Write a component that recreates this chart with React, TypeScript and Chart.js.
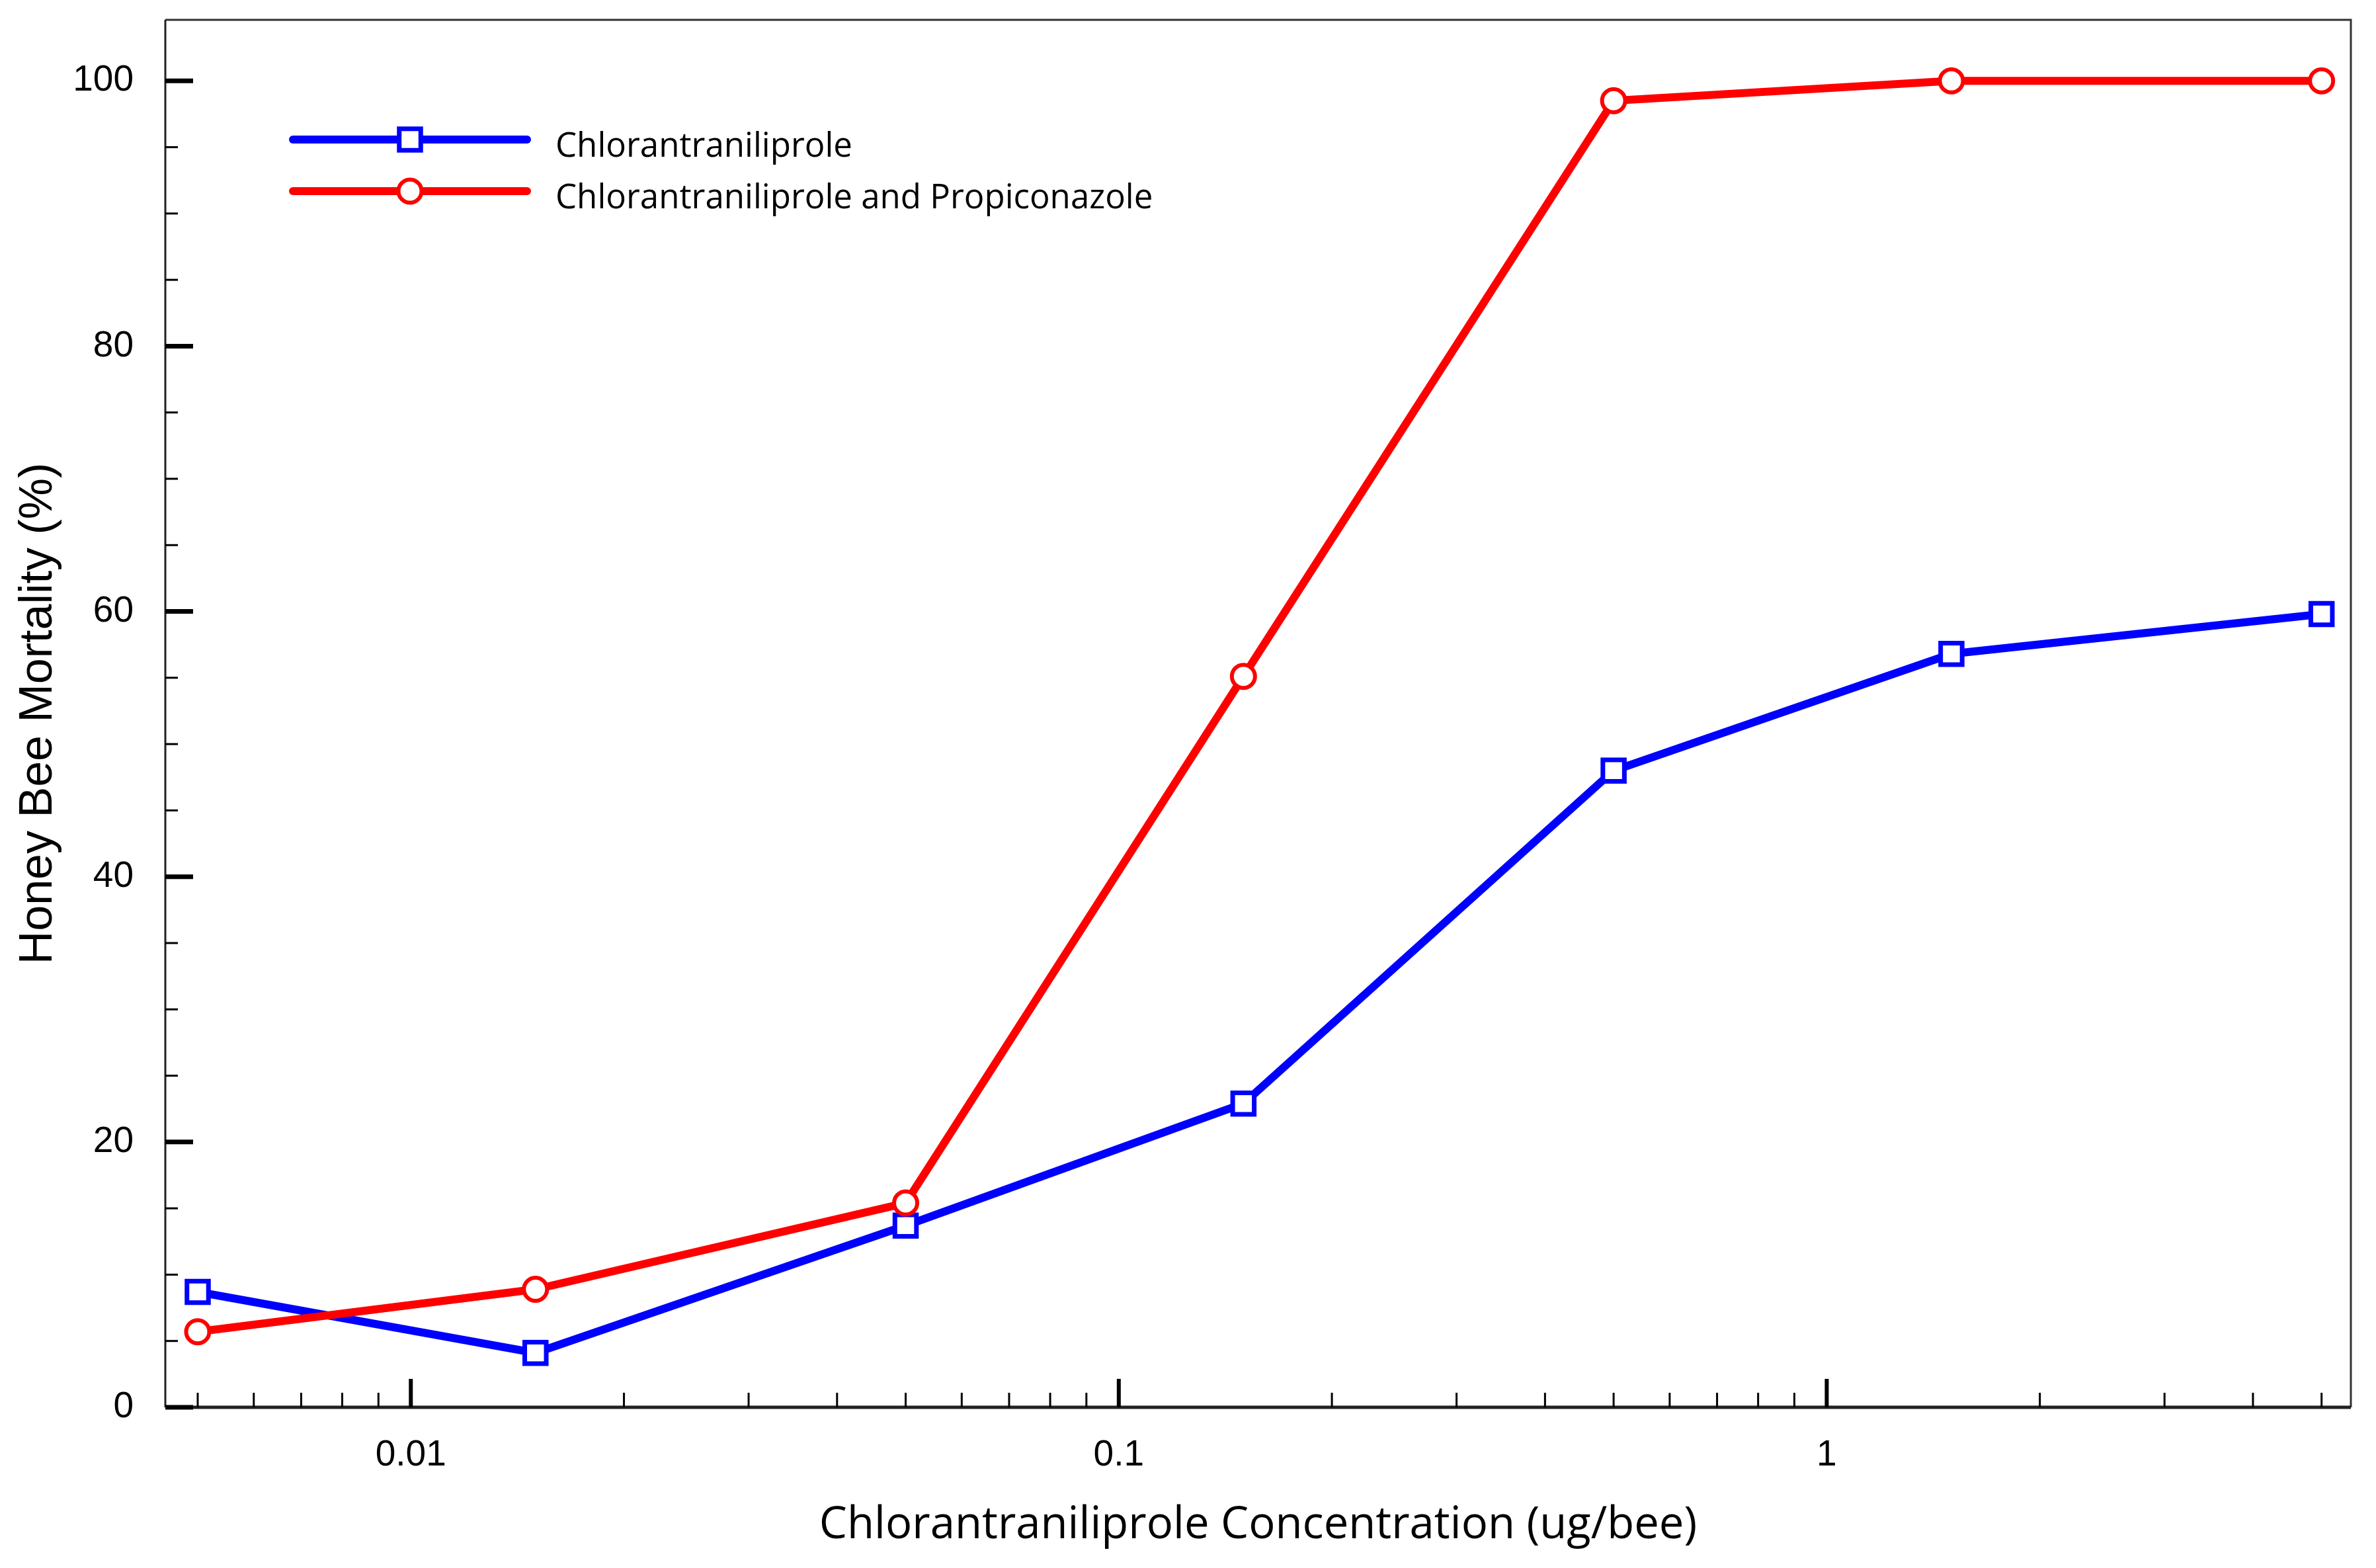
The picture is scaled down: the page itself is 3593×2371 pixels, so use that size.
import { useEffect, useRef } from 'react';
import { Chart, registerables } from 'chart.js';

Chart.register(...registerables);

// doses in ug/bee
const doses = [0.005, 0.015, 0.05, 0.15, 0.5, 1.5, 5];
// mortality (%)
const chlorantraniliprole = [8.7, 4.1, 13.7, 22.9, 48.0, 56.8, 59.8];
const withPropiconazole = [5.7, 8.9, 15.4, 55.1, 98.5, 100, 100];

const seriesLabels = ['Chlorantraniliprole', 'Chlorantraniliprole and Propiconazole'];
const xTickValues = [0.01, 0.1, 1];
const yTickValues = [0, 20, 40, 60, 80, 100];
const xTitle = 'Chlorantraniliprole Concentration (ug/bee)';
const yTitle = 'Honey Bee Mortality (%)';

const X_MIN = 0.0045;
const X_MAX = 5.5;
const Y_MIN = 0;
const Y_MAX = 104.6;

// frame + inward ticks, drawn under the data
const framePlugin = {
	id: 'frame',
	beforeDatasetsDraw(chart: any) {
		const { ctx, chartArea, scales } = chart;
		const { left, right, top, bottom } = chartArea;
		const x = scales.x;
		const y = scales.y;
		ctx.save();
		ctx.lineCap = 'butt';

		ctx.strokeStyle = '#333';
		ctx.lineWidth = 3;
		ctx.beginPath();
		ctx.moveTo(left, top);
		ctx.lineTo(right, top);
		ctx.lineTo(right, bottom);
		ctx.stroke();

		ctx.strokeStyle = '#222';
		ctx.lineWidth = 3;
		ctx.beginPath();
		ctx.moveTo(left, top);
		ctx.lineTo(left, bottom);
		ctx.stroke();

		ctx.lineWidth = 5;
		ctx.beginPath();
		ctx.moveTo(left, bottom);
		ctx.lineTo(right, bottom);
		ctx.stroke();

		ctx.strokeStyle = '#000';
		// y ticks every 5, labelled every 20
		for (let v = 0; v <= 100; v += 5) {
			const py = y.getPixelForValue(v);
			const major = v % 20 === 0;
			ctx.lineWidth = major ? 7 : 3;
			ctx.beginPath();
			ctx.moveTo(left, py);
			ctx.lineTo(left + (major ? 42 : 19), py);
			ctx.stroke();
		}

		// x ticks: 1..9 per decade
		for (const d of [0.001, 0.01, 0.1, 1]) {
			for (let k = 1; k <= 9; k++) {
				const v = k * d;
				if (v < X_MIN || v > X_MAX) continue;
				const px = x.getPixelForValue(v);
				const major = k === 1;
				ctx.lineWidth = major ? 6 : 3;
				ctx.beginPath();
				ctx.moveTo(px, bottom);
				ctx.lineTo(px, bottom - (major ? 43 : 22));
				ctx.stroke();
			}
		}
		ctx.restore();
	}
};

// legend with line + marker samples, in label order
const legendPlugin = {
	id: 'lineLegend',
	afterDraw(chart: any) {
		const { ctx } = chart;
		const rows = [211, 289];
		ctx.save();
		seriesLabels.forEach((label, i) => {
			const ds: any = chart.data.datasets.find((d: any) => d.label === label);
			if (!ds) return;
			const ly = rows[i];
			ctx.strokeStyle = ds.borderColor;
			ctx.lineWidth = ds.borderWidth;
			ctx.lineCap = 'round';
			ctx.beginPath();
			ctx.moveTo(443, ly);
			ctx.lineTo(797, ly);
			ctx.stroke();

			ctx.lineCap = 'butt';
			ctx.fillStyle = '#fff';
			ctx.lineWidth = ds.pointBorderWidth;
			ctx.beginPath();
			if (ds.pointStyle === 'rect') {
				const s = ds.pointRadius * Math.SQRT1_2;
				ctx.rect(620 - s, ly - s, 2 * s, 2 * s);
			} else {
				ctx.arc(620, ly, ds.pointRadius, 0, Math.PI * 2);
			}
			ctx.fill();
			ctx.stroke();

			ctx.fillStyle = '#000';
			ctx.font = '51px "Open Sans"';
			ctx.textBaseline = 'alphabetic';
			ctx.textAlign = 'left';
			ctx.fillText(label, 840, ly + 26);
		});
		ctx.restore();
	}
};

const noPadding = (scale: any) => {
	scale.paddingTop = 0;
	scale.paddingBottom = 0;
	scale.paddingLeft = 0;
	scale.paddingRight = 0;
};

export default function App() {
	const canvasRef = useRef<HTMLCanvasElement>(null);

	useEffect(() => {
		document.body.style.margin = '0';
		document.body.style.overflow = 'hidden';
		const canvas = canvasRef.current;
		if (!canvas) return;

		const chart = new Chart(canvas.getContext('2d') as CanvasRenderingContext2D, {
			type: 'line',
			data: {
				datasets: [
					{
						label: seriesLabels[0],
						data: doses.map((d, i) => ({ x: d, y: chlorantraniliprole[i] })),
						borderColor: '#0000ff',
						backgroundColor: '#ffffff',
						borderWidth: 12,
						pointStyle: 'rect',
						pointRadius: 23,
						pointBorderWidth: 7,
						pointBorderColor: '#0000ff',
						pointBackgroundColor: '#ffffff',
						tension: 0,
						order: 1
					},
					{
						label: seriesLabels[1],
						data: doses.map((d, i) => ({ x: d, y: withPropiconazole[i] })),
						borderColor: '#ff0000',
						backgroundColor: '#ffffff',
						borderWidth: 12,
						pointStyle: 'circle',
						pointRadius: 17.5,
						pointBorderWidth: 6,
						pointBorderColor: '#ff0000',
						pointBackgroundColor: '#ffffff',
						tension: 0,
						order: 0
					}
				] as any
			},
			options: {
				animation: false,
				responsive: true,
				maintainAspectRatio: false,
				layout: {
					padding: { left: 0, top: 29, right: 38, bottom: 0 }
				},
				scales: {
					x: {
						type: 'logarithmic',
						min: X_MIN,
						max: X_MAX,
						grid: { display: false },
						border: { display: false },
						afterFit: (scale: any) => {
							scale.height = 243;
							noPadding(scale);
						},
						afterBuildTicks: (scale: any) => {
							scale.ticks = xTickValues.map((v) => ({ value: v }));
						},
						ticks: {
							autoSkip: false,
							maxRotation: 0,
							padding: 32,
							color: '#000',
							font: { family: '"Liberation Sans", Arial', size: 55 },
							callback: (v: any) => String(v)
						},
						title: {
							display: true,
							text: xTitle,
							color: '#000',
							font: { family: '"Open Sans"', size: 67 },
							padding: { top: 0, bottom: 24 }
						}
					},
					y: {
						type: 'linear',
						min: Y_MIN,
						max: Y_MAX,
						grid: { display: false },
						border: { display: false },
						afterFit: (scale: any) => {
							scale.width = 250;
							noPadding(scale);
						},
						afterBuildTicks: (scale: any) => {
							scale.ticks = yTickValues.map((v) => ({ value: v }));
						},
						ticks: {
							padding: 40,
							color: '#000',
							font: { family: '"Liberation Sans", Arial', size: 55 },
							callback: (v: any) => String(v)
						},
						title: {
							display: true,
							text: yTitle,
							color: '#000',
							font: { family: '"Liberation Sans", Arial', size: 70 },
							padding: { top: 17, bottom: 0 }
						}
					}
				},
				plugins: {
					legend: { display: false },
					tooltip: { enabled: false }
				}
			} as any,
			plugins: [framePlugin, legendPlugin]
		});

		return () => {
			chart.destroy();
		};
	}, []);

	return (
		<div style={{ width: '3593px', height: '2371px', position: 'relative', background: '#fff' }}>
			<canvas ref={canvasRef} />
		</div>
	);
}
